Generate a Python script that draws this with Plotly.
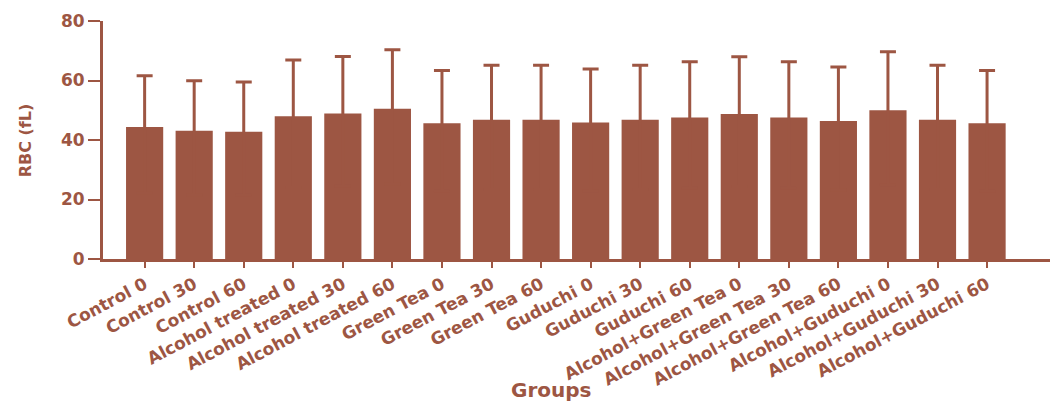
import plotly.graph_objects as go

groups = ["Control 0", "Control 30", "Control 60",
          "Alcohol treated 0", "Alcohol treated 30", "Alcohol treated 60",
          "Green Tea 0", "Green Tea 30", "Green Tea 60",
          "Guduchi 0", "Guduchi 30", "Guduchi 60",
          "Alcohol+Green Tea 0", "Alcohol+Green Tea 30", "Alcohol+Green Tea 60",
          "Alcohol+Guduchi 0", "Alcohol+Guduchi 30", "Alcohol+Guduchi 60"]
rbc_mean = [44.4, 43.1, 42.8, 48.0, 48.9, 50.5, 45.6, 46.8, 46.8,
            45.9, 46.8, 47.6, 48.7, 47.6, 46.4, 50.0, 46.8, 45.6]
rbc_sd = [17.2, 16.8, 16.7, 18.9, 19.2, 19.8, 17.8, 18.3, 18.3,
          18.0, 18.3, 18.7, 19.3, 18.7, 18.1, 19.7, 18.3, 17.8]
y_ticks = [0, 20, 40, 60, 80]

BROWN = "#9D5643"
TXT = "#9D5643"

# only the upper whisker is visible: the lower part stays hidden inside the bar
hidden_lower = [m / 2 for m in rbc_mean]

fig = go.Figure(go.Bar(
    x=groups, y=rbc_mean,
    marker=dict(color=BROWN, line=dict(width=0)),
    error_y=dict(type="data", array=rbc_sd, arrayminus=hidden_lower,
                 symmetric=False, color=BROWN, thickness=3, width=8),
    showlegend=False,
))

fig.update_layout(
    width=1053, height=405,
    margin=dict(l=103, r=3, t=21, b=146),
    paper_bgcolor="white", plot_bgcolor="white",
    bargap=0.25,
    font=dict(family="DejaVu Sans", color=TXT),
    xaxis=dict(
        type="category", range=[-0.84, 18.27],
        showline=True, linecolor=BROWN, linewidth=3,
        ticks="outside", ticklen=6, tickwidth=2, tickcolor=BROWN,
        tickangle=-28, showgrid=False, zeroline=False,
        tickfont=dict(family="DejaVu Sans", size=17, color=TXT, weight="bold"),
    ),
    yaxis=dict(
        range=[0, 80], tickvals=y_ticks, ticktext=[str(v) for v in y_ticks],
        showline=True, linecolor=BROWN, linewidth=3,
        ticks="outside", ticklen=12, tickwidth=2, tickcolor=BROWN,
        showgrid=False, zeroline=False,
        tickfont=dict(family="DejaVu Sans", size=17, color=TXT, weight="bold"),
    ),
    annotations=[
        dict(text="RBC (fL)", xref="paper", yref="paper", x=-0.082, y=0.5,
             xanchor="center", yanchor="middle", textangle=-90, showarrow=False,
             font=dict(family="DejaVu Sans", size=16, color=TXT, weight="bold")),
        dict(text="Groups", xref="paper", yref="paper", x=0.473, y=-0.552,
             xanchor="center", yanchor="middle", showarrow=False,
             font=dict(family="DejaVu Sans", size=20, color=TXT, weight="bold")),
    ],
)

fig.write_html("out.html")
